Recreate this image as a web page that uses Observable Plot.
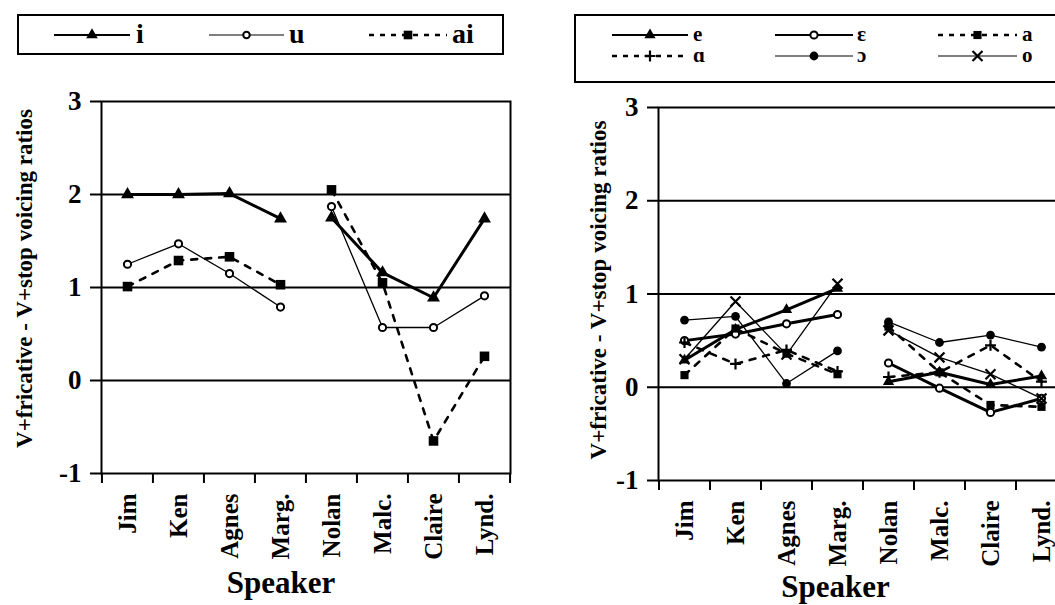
<!DOCTYPE html>
<html><head><meta charset="utf-8">
<script src="https://cdn.jsdelivr.net/npm/d3@7"></script>
<script src="https://cdn.jsdelivr.net/npm/@observablehq/plot@0.6"></script>
<style>
html,body{margin:0;padding:0;background:#fff;overflow:hidden;width:1055px;height:605px}
#root{position:relative;width:1055px;height:605px;overflow:hidden;background:#fff}
#root svg{position:absolute}
</style></head><body><div id="root"></div>
<script>
// ---------- data ----------
const speakers = ["Jim", "Ken", "Agnes", "Marg.", "Nolan", "Malc.", "Claire", "Lynd."];
const speakerGroup = ["g1", "g1", "g1", "g1", "g2", "g2", "g2", "g2"];

const leftSeries = ["i", "u", "ai"];
const leftI  = [2.00, 2.00, 2.01, 1.74, 1.75, 1.16, 0.89, 1.74];
const leftU  = [1.25, 1.47, 1.15, 0.79, 1.87, 0.57, 0.57, 0.91];
const leftAi = [1.01, 1.29, 1.33, 1.03, 2.05, 1.05, -0.65, 0.26];

const rightSeries = ["e", "ɛ", "a", "ɑ", "ɔ", "o"];
const rightE     = [0.29, 0.62, 0.83, 1.06, 0.06, 0.16, 0.03, 0.12];
const rightEps   = [0.50, 0.57, 0.68, 0.78, 0.26, -0.01, -0.27, -0.12];
const rightA     = [0.13, 0.63, 0.36, 0.14, 0.65, 0.16, -0.19, -0.21];
const rightAlpha = [0.48, 0.25, 0.40, 0.17, 0.11, 0.16, 0.45, 0.06];
const rightOpen  = [0.72, 0.76, 0.04, 0.39, 0.70, 0.48, 0.56, 0.43];
const rightO     = [0.30, 0.92, 0.35, 1.11, 0.61, 0.32, 0.14, -0.12];

const yTicks = [-1, 0, 1, 2, 3];
const gridValues = [0, 1, 2];
const xTitle = "Speaker";
const yTitle = "V+fricative - V+stop voicing ratios";

// ---------- styles ----------
const FONT = "'Liberation Serif','Times New Roman',Times,serif";
const thick = {strokeWidth: 3, dash: null, color: "black", legendColor: "black", legendWidth: 2.2};
const thin = {strokeWidth: 1.3, dash: null, color: "black", legendColor: "#555", legendWidth: 1.3};
const dashed = {strokeWidth: 2.6, dash: "6,8", color: "black", legendColor: "black", legendWidth: 2.6, legendDash: "5,6"};

const leftStyles = {
  i:  {...thick, symbol: "triangle", r: 4.8, fill: "black", stroke: "none", sw: 0},
  u:  {...thin, symbol: "circle", r: 3.6, fill: "white", stroke: "black", sw: 2},
  ai: {...dashed, symbol: "square", r: 5.4, fill: "black", stroke: "none", sw: 0}
};
const rightStyles = {
  "e": {...thick, symbol: "triangle", r: 4.2, fill: "black", stroke: "none", sw: 0},
  "ɛ": {...thick, symbol: "circle", r: 3.6, fill: "white", stroke: "black", sw: 2},
  "a": {...dashed, symbol: "square", r: 4.6, fill: "black", stroke: "none", sw: 0},
  "ɑ": {...dashed, symbol: "plus", r: 3.6, fill: "none", stroke: "black", sw: 2.2},
  "ɔ": {...thin, symbol: "circle", r: 4.4, fill: "black", stroke: "none", sw: 0},
  "o": {...thin, symbol: "times", r: 4.6, fill: "none", stroke: "black", sw: 2.2}
};

function rowsFor(names, lists) {
  const rows = [];
  names.forEach((name, k) => lists[k].forEach((v, j) =>
    rows.push({speaker: speakers[j], group: speakerGroup[j], series: name, value: v})));
  return rows;
}

function chart(cfg) {
  const rows = rowsFor(cfg.names, cfg.lists);
  const step = (cfg.width - cfg.ml - cfg.mr) / speakers.length;
  const marks = [
    Plot.ruleY(gridValues, {stroke: "black", strokeWidth: 2}),
    Plot.frame({stroke: "black", strokeWidth: 2}),
    Plot.axisY({ticks: yTicks, tickFormat: d => String(d), tickSize: 11, tickPadding: 9,
      fontSize: 27, fontWeight: "bold", strokeWidth: 2, label: null}),
    Plot.axisX({tickSize: 0, tickPadding: 20, tickRotate: -90, textAnchor: "end",
      fontSize: 25, fontWeight: "bold", label: null}),
    Plot.ruleX(speakers, {x: d => d, dx: -step / 2, y1: -1, y2: -1, insetBottom: -10, stroke: "black", strokeWidth: 2}),
    Plot.ruleX(speakers.slice(-1), {x: d => d, dx: step / 2, y1: -1, y2: -1, insetBottom: -10, stroke: "black", strokeWidth: 2}),
    Plot.text([xTitle], {frameAnchor: "bottom", textAnchor: "middle", lineAnchor: "middle",
      dx: cfg.xTitleDx, dy: cfg.xTitleDy, fontSize: 31, fontWeight: "bold", fill: "black"}),
    Plot.text([yTitle], {frameAnchor: "left", textAnchor: "middle", lineAnchor: "middle",
      dx: cfg.yTitleDx, dy: cfg.yTitleDy, rotate: -90, fontSize: 23, fontWeight: "bold", fill: "black"})
  ];
  for (const name of cfg.names) {
    const s = cfg.styles[name];
    const data = rows.filter(d => d.series === name);
    marks.push(Plot.line(data, {x: "speaker", y: "value", z: "group", stroke: s.color,
      strokeWidth: s.strokeWidth, strokeDasharray: s.dash || undefined}));
    marks.push(Plot.dot(data, {x: "speaker", y: "value", symbol: s.symbol, r: s.r,
      fill: s.fill, stroke: s.stroke, strokeWidth: s.sw}));
  }
  const svg = Plot.plot({
    width: cfg.width, height: cfg.height,
    marginTop: cfg.mt, marginBottom: cfg.mb, marginLeft: cfg.ml, marginRight: cfg.mr,
    x: {type: "point", domain: speakers, padding: 0.5},
    y: {domain: [-1, 3]},
    style: {fontFamily: FONT, background: "transparent", overflow: "visible", color: "black"},
    marks
  });
  svg.style.left = cfg.left + "px";
  svg.style.top = cfg.top + "px";
  return svg;
}

const root = document.getElementById("root");
root.appendChild(chart({
  names: leftSeries, lists: [leftI, leftU, leftAi], styles: leftStyles,
  left: 0, top: 0, width: 530, height: 605, mt: 101, mb: 132, ml: 101, mr: 20,
  xTitleDx: -25, xTitleDy: 110, yTitleDx: -77, yTitleDy: -9
}));
root.appendChild(chart({
  names: rightSeries, lists: [rightE, rightEps, rightA, rightAlpha, rightOpen, rightO], styles: rightStyles,
  left: 560, top: 0, width: 520, height: 605, mt: 107, mb: 125, ml: 98, mr: 14,
  xTitleDx: -27, xTitleDy: 107, yTitleDx: -60, yTitleDy: -4
}));

// ---------- legends ----------
const leg = d3.select(root).append("svg").attr("width", 1055).attr("height", 100)
  .style("left", "0px").style("top", "0px").style("font-family", FONT);

function symbolPath(name, r) {
  const map = {triangle: d3.symbolTriangle, circle: d3.symbolCircle, square: d3.symbolSquare, plus: d3.symbolPlus, times: d3.symbolTimes};
  return d3.symbol(map[name], Math.PI * r * r)();
}

function legendEntry(g, s, label, x1, x2, y, labelX, fontSize) {
  g.append("line").attr("x1", x1).attr("x2", x2).attr("y1", y).attr("y2", y)
    .attr("stroke", s.legendColor).attr("stroke-width", s.legendWidth)
    .attr("stroke-dasharray", s.legendDash || null);
  const p = g.append("path").attr("d", symbolPath(s.symbol, s.r))
    .attr("transform", `translate(${(x1 + x2) / 2},${y})`);
  p.attr("fill", s.fill).attr("stroke", s.stroke).attr("stroke-width", s.sw);
  g.append("text").attr("x", labelX).attr("y", y).attr("dy", "0.3em")
    .attr("font-size", fontSize).attr("font-weight", "bold").text(label);
}

leg.append("rect").attr("x", 18).attr("y", 15).attr("width", 485).attr("height", 39)
  .attr("fill", "white").attr("stroke", "black").attr("stroke-width", 2);
const leftLegX = [[54, 130, 136], [209, 284, 289], [369, 447, 452]];
leftSeries.forEach((n, k) => {
  const s = {...leftStyles[n], r: leftStyles[n].r * 0.9};
  legendEntry(leg, s, n, leftLegX[k][0], leftLegX[k][1], 35, leftLegX[k][2], 28);
});

leg.append("rect").attr("x", 575).attr("y", 15).attr("width", 520).attr("height", 67)
  .attr("fill", "white").attr("stroke", "black").attr("stroke-width", 2);
const rightLegX = [[612, 688, 693], [775, 853, 857], [938, 1017, 1022]];
const rightLegY = [35, 56];
rightSeries.forEach((n, k) => {
  const c = k % 3, r = Math.floor(k / 3);
  legendEntry(leg, rightStyles[n], n, rightLegX[c][0], rightLegX[c][1], rightLegY[r], rightLegX[c][2], 21);
});
</script>
</body></html>
